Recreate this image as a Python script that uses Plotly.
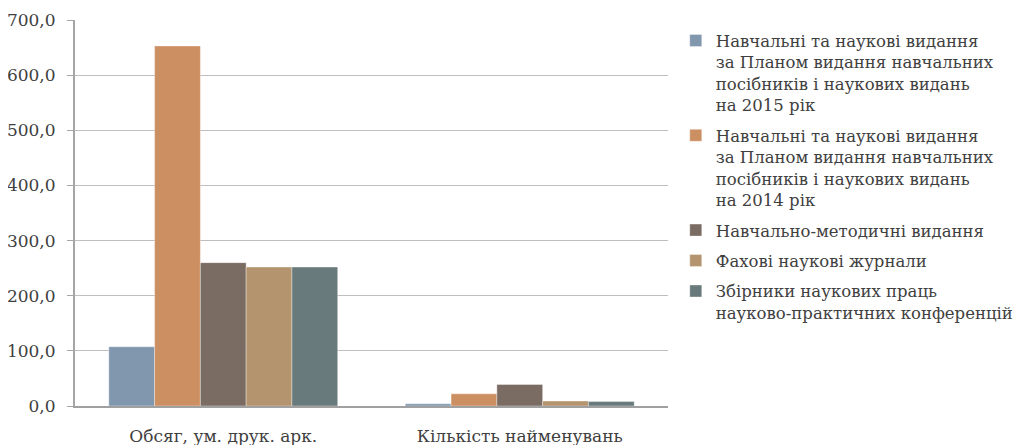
import plotly.graph_objects as go

categories = ["Обсяг, ум. друк. арк.", "Кількість найменувань"]
series_names = [
    "Навчальні та наукові видання<br>за Планом видання навчальних<br>посібників і наукових видань<br>на 2015 рік",
    "Навчальні та наукові видання<br>за Планом видання навчальних<br>посібників і наукових видань<br>на 2014 рік",
    "Навчально-методичні видання",
    "Фахові наукові журнали",
    "Збірники наукових праць<br>науково-практичних конференцій",
]
plan_2015 = [107.5, 4]
plan_2014 = [653.0, 22]
metod = [260.0, 39]
journals = [252.0, 9]
proceedings = [252.0, 8]
series_values = [plan_2015, plan_2014, metod, journals, proceedings]
colors = ["#8097AE", "#CC8F61", "#7B6C63", "#B3946E", "#697A7C"]
y_ticks = [0, 100, 200, 300, 400, 500, 600, 700]

FONT = "DejaVu Serif"
FS = 17
LFS = 16.5

fig = go.Figure()
for i, (name, vals, col) in enumerate(zip(series_names, series_values, colors)):
    fig.add_trace(go.Bar(
        x=categories, y=vals, name=name, legendgroup=f"g{i}",
        marker=dict(color=col, line=dict(color="rgba(255,255,255,0.45)", width=0.8)),
    ))

fig.update_layout(
    width=1017, height=437,
    margin=dict(l=67, r=357, t=12, b=39, autoexpand=False),
    paper_bgcolor="white", plot_bgcolor="white",
    barmode="group", bargap=0.228, bargroupgap=0,
    separators=", ",
    font=dict(family=FONT, size=FS, color="#404040"),
    showlegend=True,
    legend=dict(
        x=1.0131, xanchor="left", y=0.9915, yanchor="top",
        valign="top", traceorder="grouped", tracegroupgap=6, maxheight=600,
        font=dict(family=FONT, size=LFS, color="#404040"),
        bgcolor="rgba(0,0,0,0)", borderwidth=0,
    ),
    xaxis=dict(
        type="category", range=[-0.5, 1.5], automargin=False,
        showgrid=False, showline=True, linecolor="#A0A0A0", linewidth=2,
        ticks="", ticklabelstandoff=14,
        tickfont=dict(family=FONT, size=FS, color="#404040"),
        zeroline=False,
    ),
    yaxis=dict(
        range=[0, 700], tickvals=y_ticks, tickformat=".1f", automargin=False,
        showgrid=True, gridcolor="#BFBFBF", gridwidth=1.2,
        showline=True, linecolor="#A6A6A6", linewidth=2,
        ticks="outside", ticklen=6, tickcolor="#A6A6A6", tickwidth=1.2,
        ticklabelstandoff=8,
        tickfont=dict(family=FONT, size=FS, color="#404040"),
        zeroline=False,
    ),
)

fig.write_html("out.html")
